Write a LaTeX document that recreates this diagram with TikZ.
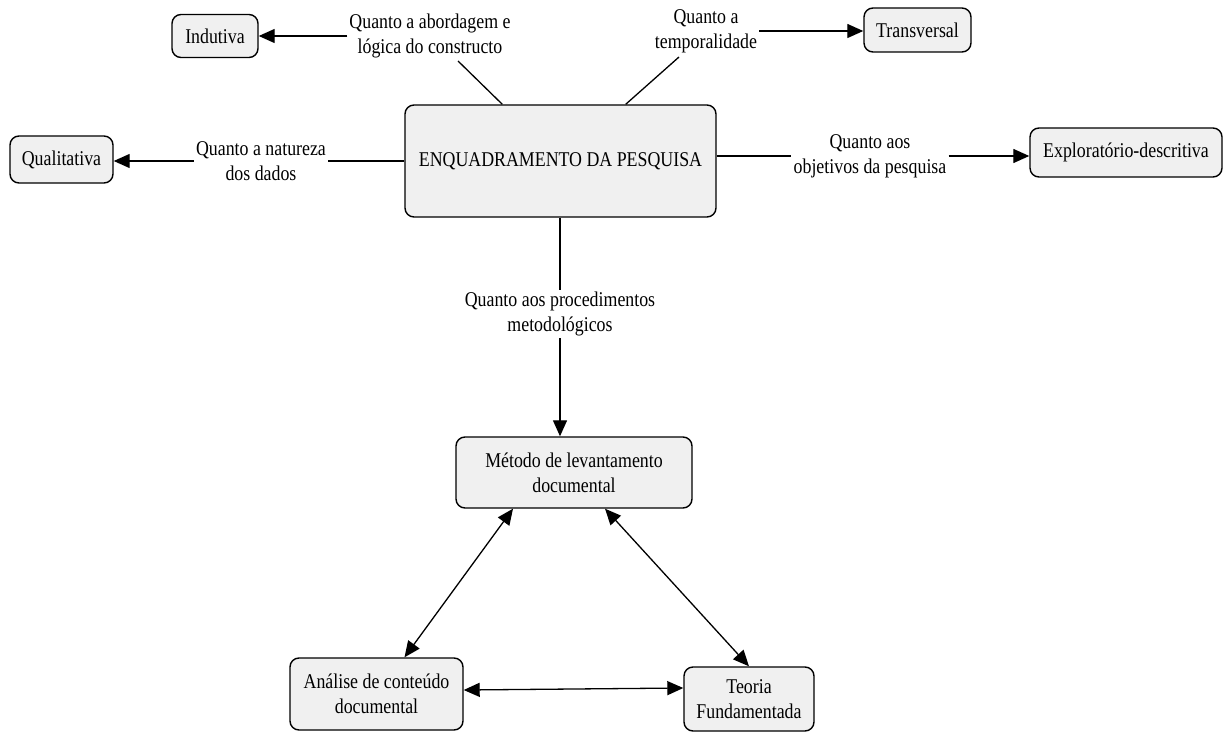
\documentclass[tikz,border=0pt]{standalone}
\usepackage{fontspec}
\setmainfont{Liberation Serif}[FakeStretch=0.85]
\usetikzlibrary{arrows.meta,calc}
\begin{document}
\begin{tikzpicture}[x=1pt,y=-1pt,
  box/.style={draw=black,line width=1.4pt,rounded corners=9pt,fill=boxgray,
    align=center,inner sep=0pt,font=\fontsize{21}{25}\selectfont},
  lab/.style={align=center,inner sep=2pt,font=\fontsize{21}{25}\selectfont},
  conn/.style={line width=1.3pt},
  arr/.style={conn,-{Triangle[length=16pt,width=14pt]}},
  biarr/.style={conn,{Triangle[length=16pt,width=14pt]}-{Triangle[length=16pt,width=14pt]}}]
\definecolor{boxgray}{RGB}{240,240,240}
\useasboundingbox (0,0) rectangle (1226,733);

% boxes
\node[box,minimum width=311pt,minimum height=112pt] (enq) at (560.5,161) {ENQUADRAMENTO DA PESQUISA};
\node[box,minimum width=86pt,minimum height=43pt] (ind) at (215,36) {Indutiva};
\node[box,minimum width=107pt,minimum height=44pt] (trans) at (917.5,30) {Transversal};
\node[box,minimum width=103pt,minimum height=47pt] (qual) at (61.5,159.5) {Qualitativa};
\node[box,minimum width=192pt,minimum height=49pt] (expl) at (1126,152.5) {Exploratório-descritiva};
\node[box,minimum width=236pt,minimum height=71pt] (met) at (574,472.5) {Método de levantamento\\documental};
\node[box,minimum width=173pt,minimum height=72pt] (ana) at (376.5,694) {Análise de conteúdo\\documental};
\node[box,minimum width=130pt,minimum height=64pt] (teo) at (749,699) {Teoria\\Fundamentada};

% edge labels
\node[lab] (lab1) at (430,36) {Quanto a abordagem e\\lógica do constructo};
\node[lab] (lab2) at (706,31) {Quanto a\\temporalidade};
\node[lab] (lab3) at (261,161) {Quanto a natureza\\dos dados};
\node[lab] (lab4) at (870,156) {Quanto aos\\objetivos da pesquisa};
\node[lab] (lab5) at (560,314) {Quanto aos procedimentos\\metodológicos};

% free ends of the slanted lines
\coordinate (e1) at (458,61);
\coordinate (e2) at (679,57);

% classification branches
\draw[conn] ([xshift=98pt]enq.north west) -- (e1);
\draw[arr] (lab1.west) -- (lab1.west -| ind.east);
\draw[conn] ([xshift=-91pt]enq.north east) -- (e2);
\draw[arr] (lab2.east) -- (lab2.east -| trans.west);
\draw[conn] (lab3.east -| enq.west) -- (lab3.east);
\draw[arr] (lab3.west) -- (lab3.west -| qual.east);
\draw[conn] (lab4.west -| enq.east) -- (lab4.west);
\draw[arr] (lab4.east) -- (lab4.east -| expl.west);
\draw[conn] (lab5.north |- enq.south) -- (lab5.north);
\draw[arr] (lab5.south) -- (lab5.south |- met.north);

% triangle of methods
\draw[biarr] ([xshift=-61pt]met.south) -- ([xshift=28pt]ana.north);
\draw[biarr] ([xshift=31pt]met.south) -- (teo.north);
\draw[biarr] ([yshift=4pt]ana.east) -- ([yshift=11pt]teo.west);
\end{tikzpicture}
\end{document}
